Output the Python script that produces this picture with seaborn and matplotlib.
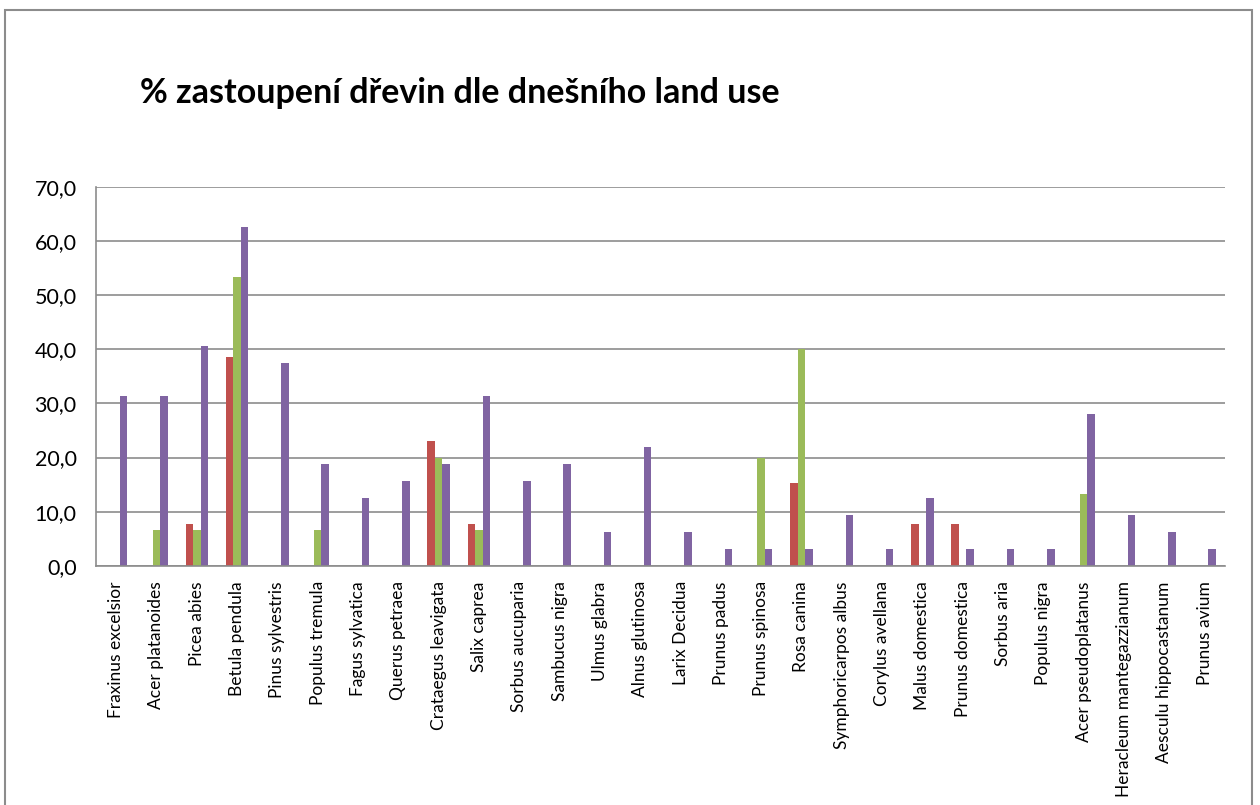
import matplotlib
matplotlib.use("Agg")
import matplotlib.pyplot as plt
import matplotlib.patches as mpatches
from matplotlib.ticker import FixedLocator, FuncFormatter
import numpy as np
import pandas as pd
import seaborn as sns

# -------- DATA --------
species = [
    "Fraxinus excelsior", "Acer platanoides", "Picea abies", "Betula pendula",
    "Pinus sylvestris", "Populus tremula", "Fagus sylvatica", "Querus petraea",
    "Crataegus leavigata", "Salix caprea", "Sorbus aucuparia", "Sambucus nigra",
    "Ulmus glabra", "Alnus glutinosa", "Larix Decidua", "Prunus padus",
    "Prunus spinosa", "Rosa canina", "Symphoricarpos albus", "Corylus avellana",
    "Malus domestica", "Prunus domestica", "Sorbus aria", "Populus nigra",
    "Acer pseudoplatanus", "Heracleum mantegazzianum", "Aesculu hippocastanum",
    "Prunus avium",
]
series_names = ["Řada 1", "Řada 2", "Řada 3"]
red_vals = [0, 0, 7.7, 38.5, 0, 0, 0, 0, 23.1, 7.7, 0, 0, 0, 0, 0, 0,
            0, 15.4, 0, 0, 7.7, 7.7, 0, 0, 0, 0, 0, 0]
green_vals = [0, 6.7, 6.7, 53.3, 0, 6.7, 0, 0, 20.0, 6.7, 0, 0, 0, 0, 0, 0,
              20.0, 40.0, 0, 0, 0, 0, 0, 0, 13.3, 0, 0, 0]
purple_vals = [31.3, 31.3, 40.6, 62.5, 37.5, 18.8, 12.5, 15.6, 18.8, 31.3,
               15.6, 18.8, 6.3, 21.9, 6.3, 3.1, 3.1, 3.1, 9.4, 3.1, 12.5,
               3.1, 3.1, 3.1, 28.1, 9.4, 6.3, 3.1]
colors = ["#C0504D", "#9BBB59", "#8064A2"]

df = pd.DataFrame({
    "species": species * 3,
    "series": [s for s in series_names for _ in species],
    "value": red_vals + green_vals + purple_vals,
})

# -------- VISUALIZATION --------
sns.set_style("white")
plt.rcParams["font.family"] = ["Lato", "DejaVu Sans"]

fig = plt.figure(figsize=(12.6, 8.05), dpi=100)
ax = fig.add_axes([0.0762, 0.297, 0.8958, 0.471])

sns.barplot(data=df, x="species", y="value", hue="series", palette=colors,
            width=0.56, gap=0, saturation=1, linewidth=0, ax=ax, legend=False)

ax.set_ylim(0, 70)
ax.set_xlim(-0.5, len(species) - 0.5)
ax.set_yticks(np.arange(0, 71, 10))
ax.yaxis.set_major_formatter(FuncFormatter(lambda v, p: f"{v:.1f}".replace(".", ",")))
ax.grid(axis="y", color="#8c8c8c", linewidth=1.2)
ax.set_axisbelow(True)
ax.set_xlabel("")
ax.set_ylabel("")

for side in ["top", "right"]:
    ax.spines[side].set_visible(False)
for side in ["left", "bottom"]:
    ax.spines[side].set_color("#8c8c8c")
    ax.spines[side].set_linewidth(1.2)

ax.set_xticks(range(len(species)))
ax.set_xticklabels(species, rotation=90, fontsize=12.5, color="black")
ax.tick_params(axis="x", which="major", length=0, pad=11)
ax.xaxis.set_minor_locator(FixedLocator(np.arange(-0.5, len(species), 1.0)))
ax.tick_params(axis="x", which="minor", length=6, color="#8c8c8c", width=1.2, direction="out")
ax.tick_params(axis="y", length=6, color="#8c8c8c", width=1.2, labelsize=15.5,
               pad=8, labelcolor="black")

fig.text(0.111, 0.872, "% zastoupení dřevin dle dnešního land use",
         fontsize=24.5, fontweight="bold", color="black")

# outer chart frame
fig.patches.append(mpatches.Rectangle((0.004, -0.02), 0.99, 1.008,
                                      transform=fig.transFigure, fill=False,
                                      edgecolor="#8c8c8c", linewidth=1.5))

fig.savefig("out.png", dpi=100)
